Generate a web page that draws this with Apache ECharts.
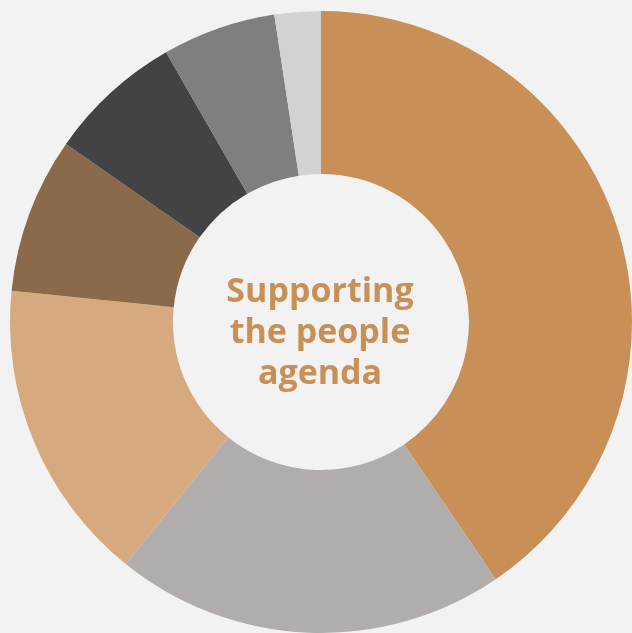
<!DOCTYPE html>
<html>
<head>
<meta charset="utf-8">
<script src="https://cdn.jsdelivr.net/npm/echarts@6/dist/echarts.min.js"></script>
<style>
html,body{margin:0;padding:0;background:#f2f2f2;}
#c{width:632px;height:633px;}
</style>
</head>
<body>
<div id="c"></div>
<script>
const categories = ['Segment A','Segment B','Segment C','Segment D','Segment E','Segment F','Segment G'];
const values = [40.5, 20.3, 15.8, 8.1, 7.0, 5.9, 2.4];
const colors = ['#c89057','#b1adad','#d6aa7e','#8a6a4a','#434345','#807e7e','#d3d1d2'];
const centerLines = ['Supporting', 'the people', 'agenda'];

const chart = echarts.init(document.getElementById('c'));
chart.setOption({
  backgroundColor: '#f2f2f2',
  animation: false,
  title: {
    text: centerLines.join('\n'),
    left: 315,
    textAlign: 'center',
    top: 267,
    textStyle: {
      color: '#c89057',
      fontFamily: 'Open Sans',
      fontWeight: 'bold',
      fontSize: 34,
      lineHeight: 41
    }
  },
  series: [{
    type: 'pie',
    center: [321, 322],
    radius: [148, 311],
    startAngle: 90,
    clockwise: true,
    silent: true,
    label: {show: false},
    labelLine: {show: false},
    data: categories.map((c, i) => ({name: c, value: values[i], itemStyle: {color: colors[i]}}))
  }]
});
</script>
</body>
</html>
